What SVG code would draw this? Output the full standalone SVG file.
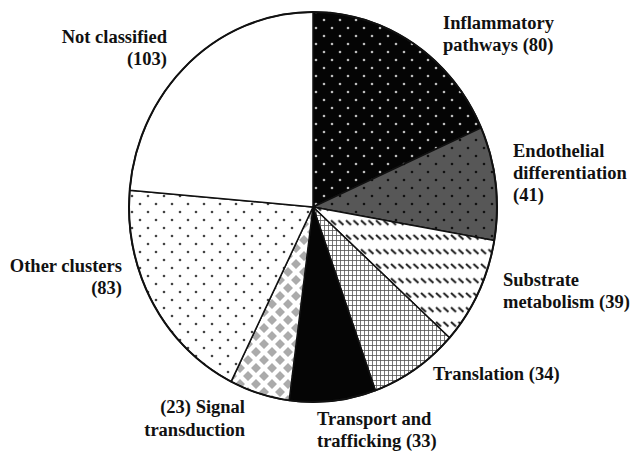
<svg xmlns="http://www.w3.org/2000/svg" width="632" height="455" viewBox="0 0 632 455">
<style>
.lbl{font-weight:bold;font-size:18.5px;fill:#111}
.r{text-anchor:end}
.slice{stroke:#111;stroke-width:1.5;stroke-linejoin:round}
</style>
<defs>
<pattern id="pInfl" width="16" height="16" patternUnits="userSpaceOnUse">
<rect width="16" height="16" fill="#050505"/>
<circle cx="4" cy="4" r="1.3" fill="#bdbdbd"/>
<circle cx="12" cy="12" r="1.3" fill="#bdbdbd"/>
</pattern>
<pattern id="pEndo" width="16" height="16" patternUnits="userSpaceOnUse">
<rect width="16" height="16" fill="#575757"/>
<circle cx="4" cy="4" r="1.3" fill="#111"/>
<circle cx="12" cy="12" r="1.3" fill="#111"/>
</pattern>
<pattern id="pSub" width="7.5" height="14.5" patternUnits="userSpaceOnUse">
<rect width="7.5" height="14.5" fill="#fff"/>
<line x1="1" y1="3" x2="6" y2="7.5" stroke="#1a1a1a" stroke-width="2"/>
</pattern>
<pattern id="pTrans" width="4" height="5" patternUnits="userSpaceOnUse">
<rect width="4" height="5" fill="#fff"/>
<line x1="0.5" y1="0" x2="0.5" y2="5" stroke="#555" stroke-width="0.8"/>
<line x1="0" y1="0.5" x2="4" y2="0.5" stroke="#555" stroke-width="0.8"/>
</pattern>
<pattern id="pSig" width="16" height="16" patternUnits="userSpaceOnUse">
<rect width="16" height="16" fill="#fff"/>
<path d="M8 3L13 8L8 13L3 8Z M0 -5L5 0L0 5L-5 0Z M16 -5L21 0L16 5L11 0Z M0 11L5 16L0 21L-5 16Z M16 11L21 16L16 21L11 16Z" fill="#ababab"/>
</pattern>
<pattern id="pOther" width="16" height="16" patternUnits="userSpaceOnUse">
<rect width="16" height="16" fill="#fff"/>
<circle cx="4" cy="4" r="1.3" fill="#444"/>
<circle cx="12" cy="12" r="1.3" fill="#444"/>
</pattern>
</defs>
<rect width="632" height="455" fill="#fff"/>
<g id="pie">
<g id="inflammatory"><path class="slice" fill="url(#pInfl)" d="M313 207L313 12A184 195 0 0 1 481.2 127.8Z"/></g>
<g id="endothelial"><path class="slice" fill="url(#pEndo)" d="M313 207L481.2 127.8A184 195 0 0 1 494.3 240.6Z"/></g>
<g id="substrate"><path class="slice" fill="url(#pSub)" d="M313 207L494.3 240.6A184 195 0 0 1 449.5 337.8Z"/></g>
<g id="translation"><path class="slice" fill="url(#pTrans)" d="M313 207L449.5 337.8A184 195 0 0 1 375.4 390.5Z"/></g>
<g id="transport"><path class="slice" fill="#050505" d="M313 207L375.4 390.5A184 195 0 0 1 289.2 400.4Z"/></g>
<g id="signal"><path class="slice" fill="url(#pSig)" d="M313 207L289.2 400.4A184 195 0 0 1 231.1 381.6Z"/></g>
<g id="other"><path class="slice" fill="url(#pOther)" d="M313 207L231.1 381.6A184 195 0 0 1 129.7 190.2Z"/></g>
<g id="notclassified"><path class="slice" fill="#fff" d="M313 207L129.7 190.2A184 195 0 0 1 313 12Z"/></g>
<ellipse cx="313" cy="207" rx="184" ry="195" fill="none" stroke="#111" stroke-width="2"/>
</g>
<g id="labels" font-family="'Liberation Serif', 'Times New Roman', 'DejaVu Serif', serif">
<text class="lbl" x="443" y="29">Inflammatory</text>
<text class="lbl" x="443" y="51">pathways (80)</text>
<text class="lbl" x="513" y="157">Endothelial</text>
<text class="lbl" x="513" y="179">differentiation</text>
<text class="lbl" x="513" y="201">(41)</text>
<text class="lbl" x="503" y="286">Substrate</text>
<text class="lbl" x="503" y="308">metabolism (39)</text>
<text class="lbl" x="433" y="380">Translation (34)</text>
<text class="lbl" x="317" y="425">Transport and</text>
<text class="lbl" x="317" y="447">trafficking (33)</text>
<text class="lbl r" x="245" y="413">(23) Signal</text>
<text class="lbl r" x="245" y="436">transduction</text>
<text class="lbl r" x="122" y="272">Other clusters</text>
<text class="lbl r" x="122" y="294">(83)</text>
<text class="lbl r" x="167" y="43">Not classified</text>
<text class="lbl r" x="167" y="65">(103)</text>
</g>
</svg>
